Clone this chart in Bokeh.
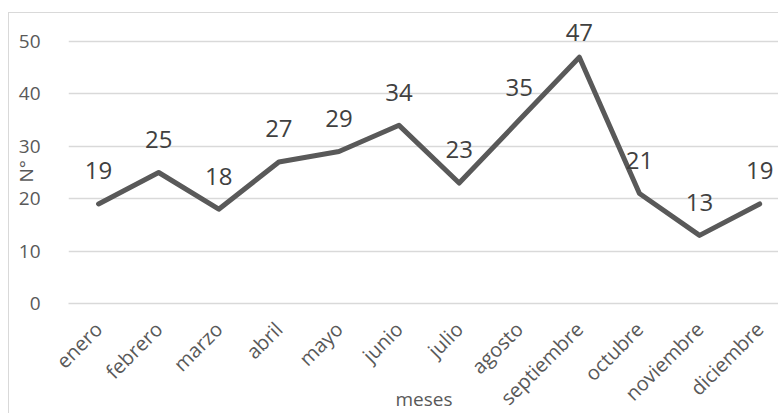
from bokeh.plotting import figure
from bokeh.models import Range1d, FixedTicker, ColumnDataSource
from bokeh.core.properties import value
from bokeh.embed import file_html
from bokeh.resources import INLINE

meses = ["enero", "febrero", "marzo", "abril", "mayo", "junio", "julio",
         "agosto", "septiembre", "octubre", "noviembre", "diciembre"]
cantidad = [19, 25, 18, 27, 29, 34, 23, 35, 47, 21, 13, 19]
y_ticks = [0, 10, 20, 30, 40, 50]

FONT = "Open Sans"
GRID = "#d9d9d9"
TXT = "#595959"
NBSP = "\u00a0"

Y_MAX = 55.15
LABEL_LIFT = 6.3      # data-label gap above each point, in value units
LABEL_CEIL = 51.7     # keep labels inside the chart area

xs = [i + 0.5 for i in range(len(meses))]
label_y = [min(v + LABEL_LIFT, LABEL_CEIL) for v in cantidad]
src = ColumnDataSource(dict(x=xs, y=cantidad, ly=label_y,
                            lbl=[str(v) for v in cantidad]))

p = figure(width=770, height=401, output_backend="svg", toolbar_location=None,
           x_range=Range1d(0, 11.83), y_range=Range1d(0, Y_MAX),
           min_border_left=59, min_border_right=0, min_border_top=1,
           min_border_bottom=111,
           margin=(12, 0, 0, 8),
           styles={"border-left": "1px solid #d9d9d9",
                   "border-top": "1px solid #d9d9d9"})
p.outline_line_color = None
p.background_fill_color = "white"
p.border_fill_color = "white"

p.xgrid.grid_line_color = None
p.ygrid.grid_line_color = GRID
p.ygrid.grid_line_width = 1.3

p.yaxis.ticker = FixedTicker(ticks=y_ticks)
p.yaxis.axis_line_color = None
p.yaxis.major_tick_line_color = None
p.yaxis.minor_tick_line_color = None
p.yaxis.major_label_standoff = 22
p.yaxis.major_label_text_font = FONT
p.yaxis.major_label_text_font_size = "19px"
p.yaxis.major_label_text_color = TXT
# trailing non-breaking spaces nudge the rotated title down the axis
p.yaxis.axis_label = "N°" + NBSP * 5
p.yaxis.axis_label_standoff = -23
p.yaxis.axis_label_text_font = FONT
p.yaxis.axis_label_text_font_size = "19px"
p.yaxis.axis_label_text_font_style = "normal"
p.yaxis.axis_label_text_color = TXT

p.xaxis.ticker = FixedTicker(ticks=xs)
p.xaxis.major_label_overrides = {x: m for x, m in zip(xs, meses)}
p.xaxis.major_label_orientation = 0.785398
p.xaxis.axis_line_color = GRID
p.xaxis.axis_line_width = 1.3
p.xaxis.major_tick_line_color = None
p.xaxis.minor_tick_line_color = None
p.xaxis.major_label_standoff = 16
p.xaxis.major_label_text_font = FONT
p.xaxis.major_label_text_font_size = "20px"
p.xaxis.major_label_text_color = TXT
p.xaxis.axis_label = "meses"
p.xaxis.axis_label_standoff = -37
p.xaxis.axis_label_text_font = FONT
p.xaxis.axis_label_text_font_size = "19px"
p.xaxis.axis_label_text_font_style = "normal"
p.xaxis.axis_label_text_color = TXT

p.line("x", "y", source=src, line_color="#595959", line_width=5,
       line_join="round", line_cap="round")

p.text("x", "ly", text="lbl", source=src,
       text_align="center", text_baseline="middle",
       text_font=value(FONT), text_font_size="24px", text_color="#404040")

open("out.html", "w").write(file_html(p, INLINE))
